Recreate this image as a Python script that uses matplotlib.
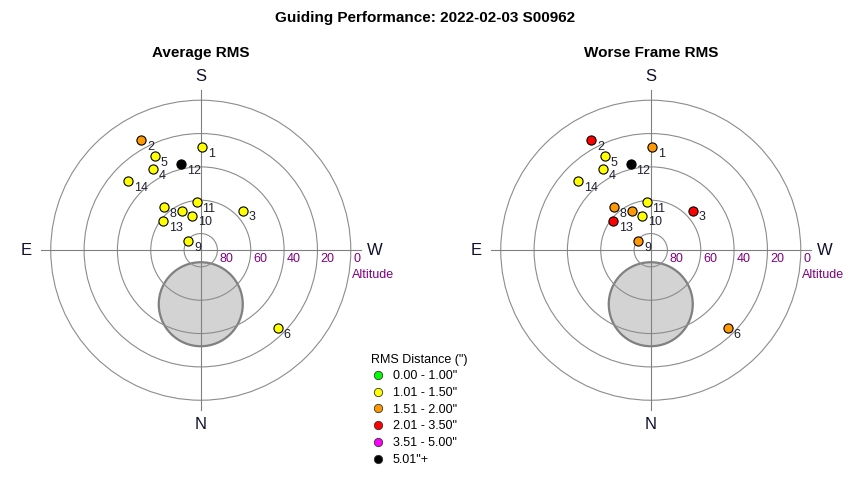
import numpy as np
import matplotlib
matplotlib.use("Agg")
import matplotlib.pyplot as plt
from matplotlib.patches import Circle
from matplotlib.lines import Line2D

plt.rcParams['font.family'] = ['Liberation Sans', 'DejaVu Sans']

# guide star positions (altitude, azimuth from N through E)
point_ids = [1, 2, 3, 4, 5, 6, 7, 8, 9, 10, 11, 12, 13, 14]
alt = [28.0, 14.8, 55.2, 33.5, 27.0, 24.3, 63.8, 55.7, 80.7, 68.6, 60.7, 36.9, 61.5, 30.0]
az = [180.9, 151.7, 226.8, 149.8, 153.9, 315.1, 154.2, 139.7, 127.1, 166.5, 175.0, 167.1, 128.1, 133.7]

# RMS bin of each frame (index into bin_labels)
avg_bin = [1, 2, 1, 1, 1, 1, 1, 1, 1, 1, 1, 5, 1, 1]
worst_bin = [2, 3, 3, 1, 1, 2, 2, 2, 2, 1, 1, 5, 3, 1]

bin_labels = ['0.00 - 1.00"', '1.01 - 1.50"', '1.51 - 2.00"',
              '2.01 - 3.50"', '3.51 - 5.00"', '5.01"+']
bin_colors = ['#00ff00', '#ffff00', '#ff9900', '#ff0000', '#ff00ff', '#000000']

alt_rings = [80, 60, 40, 20, 0]

# moon
moon_alt = 57.6
moon_az = 0.0
moon_radius = 25.2


def to_xy(a, z):
    zd = 90 - np.asarray(a, dtype=float)
    t = np.radians(np.asarray(z, dtype=float))
    return -zd * np.sin(t), -zd * np.cos(t)


def sky_plot(ax, bins):
    ax.set_xlim(-110, 110)
    ax.set_ylim(-110, 110)
    ax.set_aspect('equal')
    ax.axis('off')

    mx, my = to_xy(moon_alt, moon_az)
    ax.add_patch(Circle((mx, my), moon_radius, facecolor='#d3d3d3',
                        edgecolor='#808080', lw=1.6, zorder=1))

    for a in alt_rings:
        ax.add_patch(Circle((0, 0), 90 - a, fill=False, edgecolor='#8c8c8c',
                            lw=0.8, zorder=2))
        ax.text(90 - a + 1.5, -1.6, str(a), color='#800080', fontsize=9,
                ha='left', va='top', zorder=2)
    ax.text(90.6, -15, 'Altitude', color='#800080', fontsize=9,
            ha='left', va='center')

    ax.plot([-96, 96], [0, 0], color='#808080', lw=0.8, zorder=2)
    ax.plot([0, 0], [-96, 96], color='#808080', lw=0.8, zorder=2)

    d = 104.5
    for lab, x, y in [('S', 0, d), ('N', 0, -d), ('E', -d, 0), ('W', d, 0)]:
        ax.text(x, y, lab, fontsize=12, color='#101030', ha='center', va='center')

    x, y = to_xy(alt, az)
    for i in range(len(point_ids)):
        z = 3 + i * 0.01
        ax.plot(x[i], y[i], 'o', ms=6.6, mfc=bin_colors[bins[i]], mec='black',
                mew=0.8, zorder=z)
        ax.annotate(str(point_ids[i]), (x[i], y[i]), xytext=(4.0, -5),
                    textcoords='offset points', fontsize=9, color='#202030',
                    ha='left', va='center', zorder=z + 0.005)


fig = plt.figure(figsize=(8.5, 4.8), dpi=100)
ax1 = fig.add_axes([0.0205, 0.0967, 0.4314, 0.764])
ax2 = fig.add_axes([0.5499, 0.0967, 0.4314, 0.764])

sky_plot(ax1, avg_bin)
sky_plot(ax2, worst_bin)

fig.text(0.5, 1 - 18 / 480, 'Guiding Performance: 2022-02-03 S00962',
         fontsize=11, fontweight='bold', ha='center', va='center')
fig.text(201 / 850, 1 - 53 / 480, 'Average RMS', fontsize=11,
         fontweight='bold', ha='center', va='center')
fig.text(651 / 850, 1 - 53 / 480, 'Worse Frame RMS', fontsize=11,
         fontweight='bold', ha='center', va='center')

handles = [Line2D([], [], marker='o', ls='', ms=6, mfc=c, mec='#333333', mew=0.6)
           for c in bin_colors]
leg = fig.legend(handles, bin_labels, loc='upper left',
                 bbox_to_anchor=(0.437, 0.2625), frameon=False, fontsize=9,
                 title='RMS Distance (")', title_fontsize=9, alignment='left',
                 handlelength=1.0, handletextpad=0.7, labelspacing=0.38,
                 borderpad=0, borderaxespad=0)
leg._legend_box.sep = 3

plt.savefig('out.png', dpi=100)
